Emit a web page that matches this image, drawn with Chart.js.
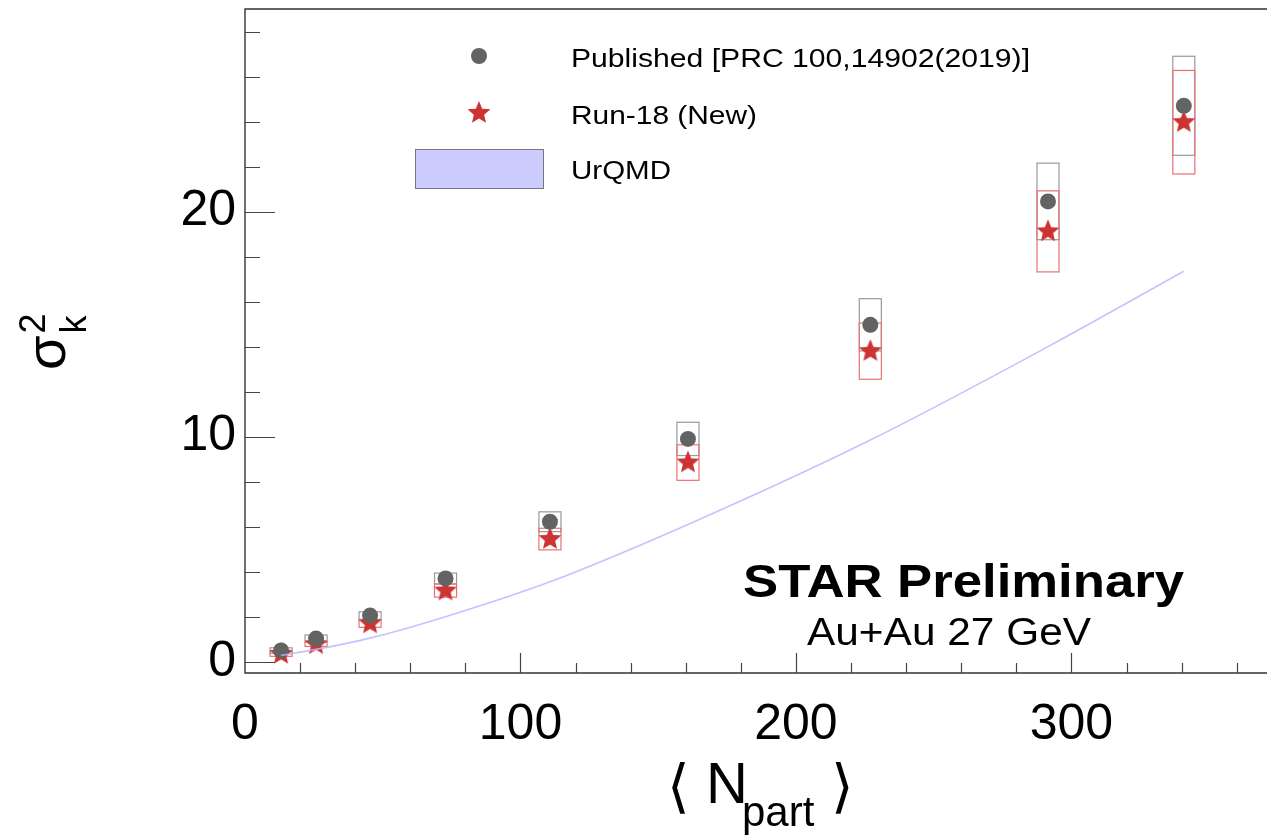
<!DOCTYPE html>
<html>
<head>
<meta charset="utf-8">
<script src="https://cdn.jsdelivr.net/npm/chart.js@4.4.1/dist/chart.umd.min.js"></script>
<style>
  html, body { margin: 0; padding: 0; background: #fff; overflow: hidden; }
</style>
</head>
<body>
<canvas id="chart" width="1267" height="836"></canvas>
<script>
// values
const npart = [13.1, 25.8, 45.4, 72.8, 110.7, 160.8, 227, 291.5, 340.8];
const published = [0.5, 1.03, 2.05, 3.7, 6.22, 9.9, 14.97, 20.45, 24.7];
const publishedSys = [0.12, 0.16, 0.17, 0.24, 0.44, 0.74, 1.16, 1.7, 2.2];
const run18 = [0.35, 0.78, 1.7, 3.16, 5.45, 8.85, 13.8, 19.12, 23.97];
const run18Sys = [0.11, 0.1, 0.17, 0.29, 0.48, 0.79, 1.25, 1.8, 2.3];
const urqmd = [0.28, 0.55, 1.05, 2.0, 3.55, 6.1, 9.85, 14.0, 17.35];
const xTicks = [0, 100, 200, 300];
const yTicks = [0, 10, 20];

const FONT = "'Liberation Sans', Arial, Helvetica, sans-serif";
const GREY = '#636363';
const RED = '#cc3333';

// filled five point star for Run-18 markers
function makeStar(r) {
    const c = document.createElement('canvas');
    c.width = c.height = Math.ceil(r * 2 + 2);
    const g = c.getContext('2d');
    const cx = c.width / 2, cy = c.height / 2;
    g.beginPath();
    for (let i = 0; i < 10; i++) {
        const rad = i % 2 === 0 ? r : r * 0.45;
        const a = -Math.PI / 2 + i * Math.PI / 5;
        g.lineTo(cx + rad * Math.cos(a), cy + rad * Math.sin(a));
    }
    g.closePath();
    g.fillStyle = RED;
    g.fill();
    return c;
}
const starImg = makeStar(12);

const pts = (ys) => npart.map((x, i) => ({ x: x, y: ys[i] }));

// ROOT text looks wider than Liberation, so stretch it to the measured width
function wideText(ctx, text, x, y, width, right) {
    const m = ctx.measureText(text).width;
    ctx.save();
    ctx.translate(right ? x - width : x, y);
    ctx.scale(width / m, 1);
    ctx.textAlign = 'left';
    ctx.fillText(text, 0, 0);
    ctx.restore();
}

// frame, inner ticks, systematic boxes
const rootFrame = {
    id: 'rootFrame',
    beforeDatasetsDraw(chart) {
        const { ctx, chartArea: a, scales: { x, y } } = chart;
        ctx.save();

        // systematic boxes
        ctx.lineWidth = 1.2;
        const drawBoxes = (vals, sys, color) => {
            ctx.strokeStyle = color;
            vals.forEach((v, i) => {
                const x0 = x.getPixelForValue(npart[i] - 4);
                const x1 = x.getPixelForValue(npart[i] + 4);
                const y0 = y.getPixelForValue(v + sys[i]);
                const y1 = y.getPixelForValue(v - sys[i]);
                ctx.strokeRect(x0, y0, x1 - x0, y1 - y0);
            });
        };
        drawBoxes(published, publishedSys, '#999999');
        drawBoxes(run18, run18Sys, '#e57373');

        // frame
        ctx.strokeStyle = '#333';
        ctx.lineWidth = 1.4;
        ctx.beginPath();
        ctx.moveTo(a.right, a.top);
        ctx.lineTo(a.left, a.top);
        ctx.lineTo(a.left, a.bottom);
        ctx.lineTo(a.right, a.bottom);
        ctx.stroke();

        // ticks drawn inward like ROOT
        ctx.lineWidth = 1.2;
        ctx.strokeStyle = '#444';
        ctx.beginPath();
        for (let v = 0; v <= 28; v += 2) {
            const py = Math.round(y.getPixelForValue(v)) + 0.5;
            const len = v % 10 === 0 ? 30 : 15;
            ctx.moveTo(a.left, py);
            ctx.lineTo(a.left + len, py);
        }
        for (let v = 20; v <= 370; v += 20) {
            const px = Math.round(x.getPixelForValue(v)) + 0.5;
            const len = v % 100 === 0 ? 20 : 10;
            ctx.moveTo(px, a.bottom);
            ctx.lineTo(px, a.bottom - len);
        }
        ctx.stroke();
        ctx.restore();
    },
    afterDraw(chart) {
        const { ctx } = chart;
        ctx.save();
        ctx.fillStyle = '#000';
        ctx.textBaseline = 'alphabetic';

        // legend
        ctx.beginPath();
        ctx.arc(479, 56, 8, 0, Math.PI * 2);
        ctx.fillStyle = GREY;
        ctx.fill();
        ctx.drawImage(starImg, 479 - starImg.width / 2, 113 - starImg.height / 2);
        ctx.fillStyle = '#ccccff';
        ctx.fillRect(415, 149, 128, 39);
        ctx.strokeStyle = '#777';
        ctx.lineWidth = 1;
        ctx.strokeRect(415.5, 149.5, 128, 39);

        ctx.fillStyle = '#000';
        ctx.font = '26px ' + FONT;
        wideText(ctx, 'Published [PRC 100,14902(2019)]', 571, 67, 459);
        wideText(ctx, 'Run-18 (New)', 571, 124, 186);
        wideText(ctx, 'UrQMD', 571, 179, 100);

        // labels in the plot
        ctx.font = 'bold 47px ' + FONT;
        wideText(ctx, 'STAR Preliminary', 1184, 597, 441, true);
        ctx.font = '38px ' + FONT;
        wideText(ctx, 'Au+Au 27 GeV', 1091, 645, 284, true);

        // x axis title
        ctx.textAlign = 'left';
        ctx.font = '58px ' + FONT;
        ctx.fillText('\u27E8', 667, 806);
        ctx.fillText('N', 706, 803);
        ctx.font = '42px ' + FONT;
        ctx.fillText('part', 742, 826);
        ctx.font = '58px ' + FONT;
        ctx.fillText('\u27E9', 831, 806);

        // y axis title, rotated
        ctx.translate(65, 370);
        ctx.rotate(-Math.PI / 2);
        ctx.font = '56px ' + FONT;
        ctx.fillText('\u03C3', 0, 0);
        const w = ctx.measureText('\u03C3').width;
        ctx.font = '36px ' + FONT;
        ctx.fillText('2', w + 2, -20);
        ctx.fillText('k', w + 2, 21);
        ctx.restore();
    }
};

const ctx = document.getElementById('chart').getContext('2d');

new Chart(ctx, {
    type: 'scatter',
    data: {
        datasets: [
            {
                label: 'UrQMD',
                type: 'line',
                data: pts(urqmd),
                borderColor: 'rgba(185,185,255,0.85)',
                borderWidth: 1.6,
                pointRadius: 0,
                cubicInterpolationMode: 'monotone',
                fill: false
            },
            {
                label: 'Published [PRC 100,14902(2019)]',
                data: pts(published),
                pointStyle: 'circle',
                pointRadius: 8,
                backgroundColor: GREY,
                borderColor: GREY,
                borderWidth: 0
            },
            {
                label: 'Run-18 (New)',
                data: pts(run18),
                pointStyle: starImg,
                pointRadius: 12
            }
        ]
    },
    options: {
        responsive: false,
        animation: false,
        layout: { autoPadding: false, padding: { top: 9, right: 0, left: 0, bottom: 0 } },
        plugins: {
            legend: { display: false },
            tooltip: { enabled: false }
        },
        scales: {
            x: {
                type: 'linear',
                min: 0,
                max: 371,
                afterBuildTicks: (s) => { s.ticks = xTicks.map(v => ({ value: v })); },
                afterFit: (s) => { s.height = 163; s.paddingLeft = 0; s.paddingRight = 0; },
                grid: { display: false, drawTicks: false },
                border: { display: false },
                ticks: {
                    padding: 22,
                    color: '#000',
                    maxRotation: 0,
                    autoSkip: false,
                    font: { family: FONT, size: 50 }
                }
            },
            y: {
                type: 'linear',
                min: -0.5,
                max: 29,
                afterBuildTicks: (s) => { s.ticks = yTicks.map(v => ({ value: v })); },
                afterFit: (s) => { s.width = 245; s.paddingTop = 0; s.paddingBottom = 0; },
                grid: { display: false, drawTicks: false },
                border: { display: false },
                ticks: {
                    padding: 9,
                    color: '#000',
                    font: { family: FONT, size: 50 }
                }
            }
        }
    },
    plugins: [rootFrame]
});
</script>
</body>
</html>
